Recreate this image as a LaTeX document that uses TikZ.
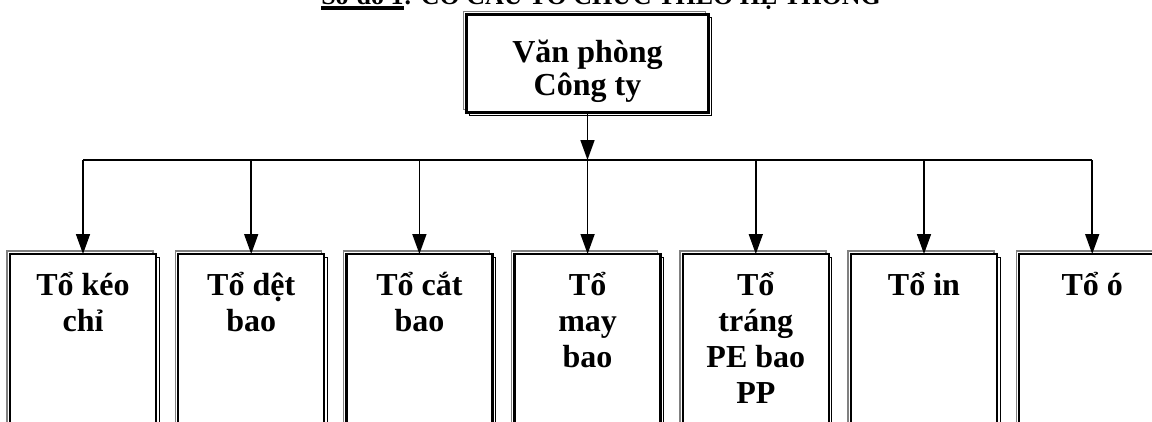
\documentclass[tikz,border=0pt]{standalone}
\usepackage{fontspec}
\setmainfont{Liberation Serif}
\usepackage{tikz}
\usetikzlibrary{positioning,arrows.meta}

% thick underline
\newcommand\thickul[1]{\setbox0\hbox{#1}\rlap{\vrule width\wd0 height -2pt depth 5.5pt}\box0}

\begin{document}
\begin{tikzpicture}[x=1pt,y=-1pt,
    frame/.style={draw=black, line width=2.4pt, fill=white, outer sep=0pt,
      preaction={draw=gray, line width=1.4pt, transform canvas={shift={(-3pt,3pt)}}},
      preaction={draw=black, line width=1pt, transform canvas={shift={(3pt,-3pt)}}}},
    unit/.style={frame, minimum width=146pt, minimum height=200pt, anchor=north},
    txt/.style={font=\fontsize{32}{36}\selectfont\bfseries, align=center},
    arr/.style={line width=1.6pt, -{Triangle[length=20pt,width=14pt]}}]
    \useasboundingbox (0,0) rectangle (1152,421);
    \clip (0,0) rectangle (1152,421);

    % title, only its lower half is on the page
    \node [anchor=base, font=\fontsize{26}{30}\selectfont\bfseries] (title) at (601,4)
      {\thickul{Sơ đồ 1}: CƠ CẤU TỔ CHỨC THEO HỆ THỐNG};

    % head office
    \node [frame, minimum width=242pt, minimum height=98pt,
      label={[txt, font=\fontsize{32}{33}\selectfont\bfseries, anchor=north, yshift=-22pt]north:Văn phòng\\Công ty}] (vp) at (587.5,63.5) {};

    % units
    \node [unit, label={[txt, anchor=north, yshift=-15pt]north:Tổ kéo\\chỉ}] (u1) at (83, 254) {};
    \node [unit, label={[txt, anchor=north, yshift=-15pt]north:Tổ dệt\\bao}] (u2) at (251.2, 254) {};
    \node [unit, label={[txt, anchor=north, yshift=-15pt]north:Tổ cắt\\bao}] (u3) at (419.4, 254) {};
    \node [unit, label={[txt, anchor=north, yshift=-15pt]north:Tổ\\may\\bao}] (u4) at (587.6, 254) {};
    \node [unit, label={[txt, anchor=north, yshift=-15pt]north:Tổ\\tráng\\PE bao\\PP}] (u5) at (755.8, 254) {};
    \node [unit, label={[txt, anchor=north, yshift=-15pt]north:Tổ in}] (u6) at (924, 254) {};
    \node [unit, label={[txt, anchor=north, yshift=-15pt]north:Tổ ó}] (u7) at (1092.2, 254) {};

    % connectors
    \coordinate (bus) at (587.5,160);
    \draw [arr] (vp.south) -- (bus);
    \draw [line width=2.4pt] (u1 |- bus) -- (u7 |- bus);
    \draw [arr] (u1 |- bus) -- (u1.north);
    \draw [arr] (u2 |- bus) -- (u2.north);
    \draw [arr] (u3 |- bus) -- (u3.north);
    \draw [arr] (u4 |- bus) -- (u4.north);
    \draw [arr] (u5 |- bus) -- (u5.north);
    \draw [arr] (u6 |- bus) -- (u6.north);
    \draw [arr] (u7 |- bus) -- (u7.north);
\end{tikzpicture}
\end{document}
